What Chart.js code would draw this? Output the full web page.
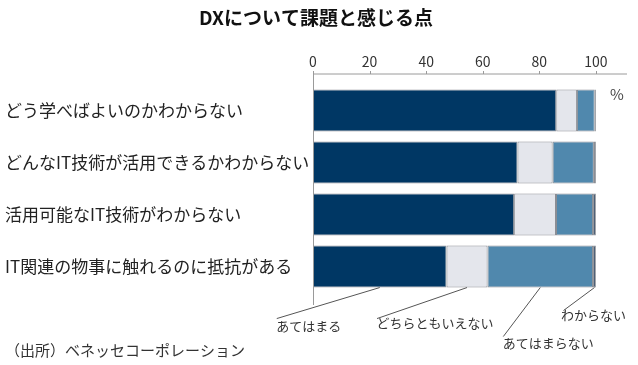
<!DOCTYPE html>
<html lang="ja">
<head>
    <meta charset="utf-8">
    <title>DXについて課題と感じる点</title>
    <script src="https://cdn.jsdelivr.net/npm/chart.js"></script>
    <style>
        html, body { margin: 0; padding: 0; background: #fff; }
        #wrap { width: 638px; height: 365px; }
    </style>
</head>
<body>
<div id="wrap">
    <canvas id="myChart" width="638" height="365"></canvas>
</div>
<script>
    const categories = [
        'どう学べばよいのかわからない',
        'どんなIT技術が活用できるかわからない',
        '活用可能なIT技術がわからない',
        'IT関連の物事に触れるのに抵抗がある'
    ];
    const seriesNames = ['あてはまる', 'どちらともいえない', 'あてはまらない', 'わからない'];
    const atehamaru = [86.0, 72.3, 71.1, 47.2];
    const dochiramo = [7.3, 12.4, 14.8, 14.5];
    const atehamaranai = [6.3, 14.6, 13.1, 37.3];
    const wakaranai = [0.4, 0.7, 1.0, 1.0];
    const xTicks = [0, 20, 40, 60, 80, 100];

    const colors = ['#003764', '#e4e6ec', '#5088ad', '#2f4560'];
    const font = '"Noto Sans CJK JP", "Noto Sans", sans-serif';

    // leader line end / label centre, offset from the segment mid point at bar bottom
    const callouts = [
        {line: [-103, 31], text: [-71, 39]},
        {line: [-90, 31], text: [-32, 36]},
        {line: [-37, 49], text: [8, 56]},
        {line: [-31, 23], text: [-1, 28]}
    ];

    const extras = {
        id: 'extras',
        afterDraw(chart) {
            const c = chart.ctx;
            const xs = chart.scales.x;
            const area = chart.chartArea;
            const axisY = area.top - 10.5;
            c.save();
            c.strokeStyle = '#9a9a9a';
            c.lineWidth = 1;
            c.beginPath();
            c.moveTo(area.left, axisY);
            c.lineTo(area.right, axisY);
            c.moveTo(area.left + 0.5, axisY);
            c.lineTo(area.left + 0.5, area.bottom + 12.5);
            xTicks.forEach(t => {
                const px = Math.round(xs.getPixelForValue(t)) + 0.5;
                c.moveTo(px, axisY - 3);
                c.lineTo(px, axisY);
            });
            c.stroke();

            c.fillStyle = '#444';
            c.font = '15px ' + font;
            c.textAlign = 'left';
            c.textBaseline = 'middle';
            c.fillText('%', xs.getPixelForValue(100) + 14, axisY + 20);

            // leader lines for the last bar
            const last = categories.length - 1;
            c.strokeStyle = '#555';
            c.font = '13px ' + font;
            c.textAlign = 'center';
            c.fillStyle = '#333';
            chart.data.datasets.forEach((ds, i) => {
                const bar = chart.getDatasetMeta(i).data[last];
                const mx = (bar.x + bar.base) / 2;
                const by = bar.y + bar.height / 2;
                const co = callouts[i];
                c.beginPath();
                c.moveTo(mx, by);
                c.lineTo(mx + co.line[0], by + co.line[1]);
                c.stroke();
                c.fillText(ds.label, mx + co.text[0], by + co.text[1]);
            });

            c.textAlign = 'left';
            c.font = '15px ' + font;
            c.fillStyle = '#333';
            c.fillText('（出所）ベネッセコーポレーション', 5, 350);
            c.restore();
        }
    };

    const values = [atehamaru, dochiramo, atehamaranai, wakaranai];
    const ctx = document.getElementById('myChart').getContext('2d');
    const chart = new Chart(ctx, {
        type: 'bar',
        data: {
            labels: categories,
            datasets: seriesNames.map((name, i) => ({
                label: name,
                data: values[i],
                backgroundColor: colors[i],
                borderColor: '#8a8d94',
                borderWidth: 1,
                borderSkipped: false,
                categoryPercentage: 1,
                barPercentage: 0.81
            }))
        },
        options: {
            indexAxis: 'y',
            responsive: false,
            animation: false,
            layout: {
                padding: {left: 5, right: 11, top: 0, bottom: 72.5}
            },
            plugins: {
                legend: {display: false},
                tooltip: {enabled: false},
                title: {
                    display: true,
                    text: 'DXについて課題と感じる点',
                    color: '#111',
                    font: {family: font, size: 19, weight: 'bold'},
                    padding: {top: 6, bottom: 10}
                }
            },
            scales: {
                x: {
                    position: 'top',
                    stacked: true,
                    min: 0,
                    max: 111,
                    afterBuildTicks: scale => {
                        scale.ticks = xTicks.map(v => ({value: v}));
                    },
                    afterFit: scale => {
                        scale.height = 45.7;
                    },
                    grid: {display: false},
                    border: {display: false},
                    ticks: {
                        color: '#333',
                        padding: 6,
                        font: {family: font, size: 14}
                    }
                },
                y: {
                    stacked: true,
                    afterFit: scale => {
                        scale.width = 308;
                    },
                    grid: {display: false},
                    border: {display: false},
                    ticks: {
                        crossAlign: 'far',
                        color: '#222',
                        font: {family: font, size: 17}
                    }
                }
            }
        },
        plugins: [extras]
    });
</script>
</body>
</html>
